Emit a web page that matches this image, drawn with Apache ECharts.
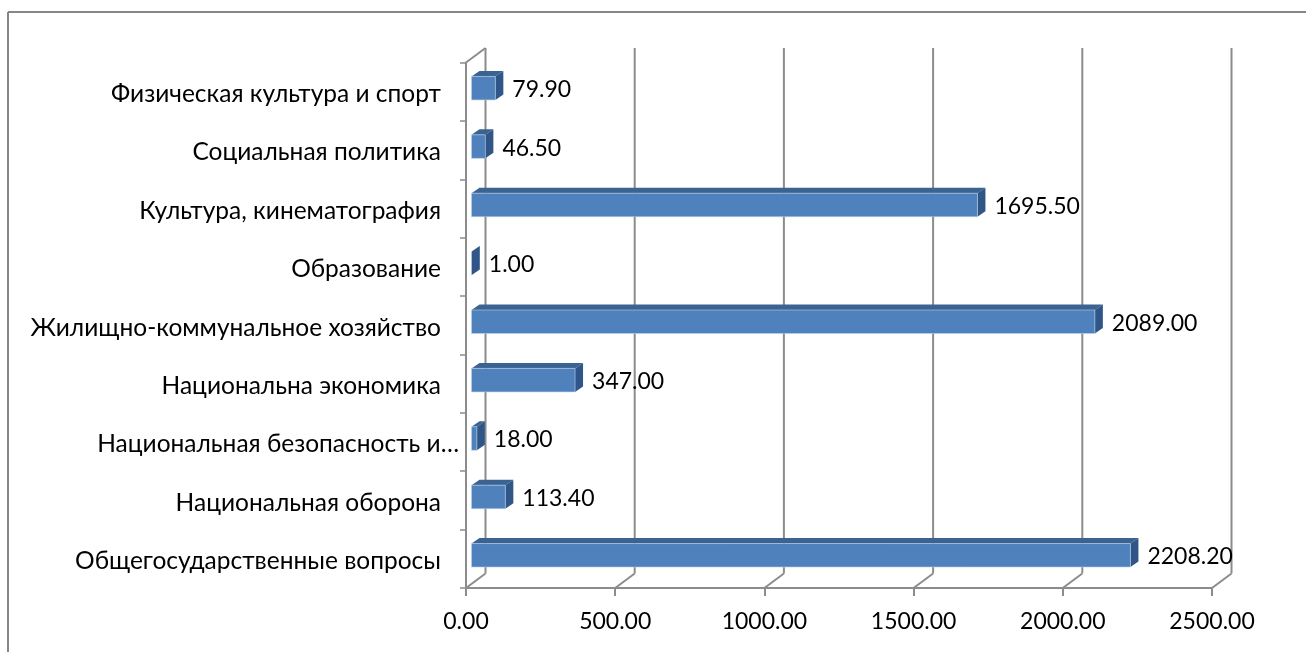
<!DOCTYPE html>
<html><head><meta charset="utf-8">
<style>html,body{margin:0;padding:0;background:#fff}#c{width:1306px;height:652px}</style>
<script src="https://cdn.jsdelivr.net/npm/echarts@6/dist/echarts.min.js"></script>
</head><body><div id="c"></div>
<script>
const categories = ['Общегосударственные вопросы','Национальная оборона','Национальная безопасность и…','Национальна экономика','Жилищно-коммунальное хозяйство','Образование','Культура, кинематография','Социальная политика','Физическая культура и спорт'];
const values = [2208.20,113.40,18.00,347.00,2089.00,1.00,1695.50,46.50,79.90];
const wallTicks = [0,500,1000,1500,2000,2500];
const FONT = 'Lato, "Open Sans", sans-serif';
const GRAY = '#8c8c8c';
const WALL = {dx:19.5, dy:-14.5};
const BAR = {ox:5.5, oy:-3.5, dx:8, dy:-5.5, h:23.5};

const chart = echarts.init(document.getElementById('c'), null, {renderer:'canvas'});
chart.setOption({
  animation:false,
  backgroundColor:'#ffffff',
  grid:{left:466, right:94, top:62.5, bottom:64},
  xAxis:{type:'value', min:0, max:2500, interval:500,
    axisLine:{show:true, lineStyle:{color:GRAY, width:2}},
    axisTick:{show:true, length:8, lineStyle:{color:GRAY, width:2}},
    splitLine:{show:false},
    axisLabel:{color:'#000', fontFamily:FONT, fontSize:23, margin:22, formatter:v=>v.toFixed(2), hideOverlap:false, showMinLabel:true, showMaxLabel:true}},
  yAxis:{type:'category', data:categories,
    axisLine:{show:true, lineStyle:{color:GRAY, width:2}},
    axisTick:{show:true, length:6, alignWithLabel:false, lineStyle:{color:GRAY, width:1.5}},
    axisLabel:{color:'#000', fontFamily:FONT, fontSize:24.5, margin:7, interval:0,
      formatter:v=>v.endsWith('…')?'{t|'+v+'}':'{p|'+v+'}',
      rich:{p:{padding:[5,18,0,0], color:'#000', fontFamily:FONT, fontSize:24.5},
            t:{padding:[5,0,0,0], color:'#000', fontFamily:FONT, fontSize:24.5}}}},
  graphic:[
    {type:'line', silent:true, shape:{x1:8,y1:12,x2:1306,y2:12}, style:{stroke:'#868686', lineWidth:2}},
    {type:'line', silent:true, shape:{x1:8,y1:12,x2:8,y2:652}, style:{stroke:'#868686', lineWidth:2}}
  ],
  series:[
    {type:'custom', name:'walls', z:1, silent:true, data:wallTicks.map(v=>[v]), encode:{x:0},
     renderItem(params, api){
       const x = api.coord([api.value(0),0])[0];
       const yb = params.coordSys.y + params.coordSys.height;
       const yt = params.coordSys.y;
       const ls = {stroke:GRAY, lineWidth:2, fill:null};
       const kids = [
         {type:'line', shape:{x1:x+WALL.dx,y1:yt+WALL.dy,x2:x+WALL.dx,y2:yb+WALL.dy}, style:ls},
         {type:'line', shape:{x1:x,y1:yb,x2:x+WALL.dx,y2:yb+WALL.dy}, style:ls}
       ];
       if (api.value(0)===0) kids.push({type:'line', shape:{x1:x,y1:yt,x2:x+WALL.dx,y2:yt+WALL.dy}, style:ls});
       return {type:'group', children:kids};
     }},
    {type:'custom', name:'Расходы', z:3, silent:true, data:values.map((v,i)=>[v,i]), encode:{x:0,y:1},
     renderItem(params, api){
       const p0 = api.coord([0, api.value(1)]);
       const p1 = api.coord([api.value(0), api.value(1)]);
       const x0 = p0[0]+BAR.ox, x1 = p1[0]+BAR.ox;
       const yc = p0[1]+BAR.oy, y0 = yc-BAR.h/2, y1 = yc+BAR.h/2;
       const {dx,dy} = BAR;
       return {type:'group', children:[
         {type:'polygon', shape:{points:[[x0,y0],[x1,y0],[x1+dx,y0+dy],[x0+dx,y0+dy]]}, style:{fill:'#3b6391'}},
         {type:'polygon', shape:{points:[[x1,y0],[x1+dx,y0+dy],[x1+dx,y1+dy],[x1,y1]]}, style:{fill:'#2f5686'}},
         {type:'rect', shape:{x:x0,y:y0,width:x1-x0,height:y1-y0}, style:{fill:'#4f81bd', stroke:'#bcd0e8', lineWidth:x1-x0>2?0.6:0}},
         {type:'text', style:{x:x1+dx+9, y:yc+1.5, text:api.value(0).toFixed(2), fill:'#000', font:'23px '+FONT, textAlign:'left', textVerticalAlign:'middle'}, z2:10}
       ]};
     }}
  ]
});
</script></body></html>
